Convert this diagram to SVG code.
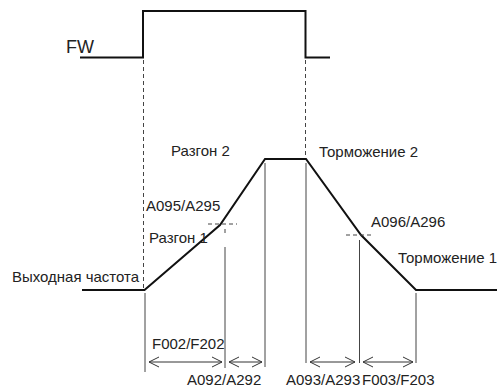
<svg xmlns="http://www.w3.org/2000/svg" width="504" height="388" viewBox="0 0 504 388">
<style>
text{font-family:"Liberation Sans",Arial,sans-serif;font-size:15px;fill:#222}
.thick{fill:none;stroke:#111;stroke-width:2;stroke-linejoin:miter}
.thin{fill:none;stroke:#444;stroke-width:1}
.dash{fill:none;stroke:#444;stroke-width:1;stroke-dasharray:4 3}
.arr{fill:none;stroke:#333;stroke-width:1;marker-start:url(#ah);marker-end:url(#ah)}
</style>
<defs>
<marker id="ah" viewBox="-12 -7 13 14" markerWidth="13" markerHeight="14" refX="0" refY="0" orient="auto-start-reverse" markerUnits="userSpaceOnUse">
<path d="M-10,-5 L0,0 L-10,5" fill="none" stroke="#333" stroke-width="1"/>
</marker>
</defs>
<g id="fw-signal">
<path class="thick" d="M80,57.5 H143 V11 H305.5 V57.5 H330"/>
<text x="66" y="53" style="font-size:18px">FW</text>
</g>
<g id="output-frequency">
<path class="thick" d="M82,290 H144.5 L220,225 L265,159 H306 L361,235 L416,290 H497"/>
<text x="12" y="282" textLength="127" lengthAdjust="spacingAndGlyphs">Выходная частота</text>
</g>
<g id="connectors">
<line class="dash" x1="143.5" y1="60" x2="143.5" y2="288"/>
<line class="dash" x1="305.5" y1="60" x2="305.5" y2="157"/>
<line class="dash" x1="208" y1="224" x2="237" y2="224"/>
<line class="dash" x1="346" y1="235" x2="374" y2="235"/>
<line class="thin" x1="225" y1="229" x2="225" y2="233"/>
<line class="thin" x1="145" y1="293" x2="145" y2="372"/>
<line class="thin" x1="225" y1="247" x2="225" y2="368"/>
<line class="thin" x1="265" y1="163" x2="265" y2="367"/>
<line class="thin" x1="306" y1="163" x2="306" y2="363"/>
<line class="thin" x1="359.5" y1="240" x2="359.5" y2="363"/>
<line class="thin" x1="416" y1="293" x2="416" y2="363"/>
<line class="arr" x1="149" y1="362" x2="222" y2="362"/>
<line class="arr" x1="229" y1="362" x2="262" y2="362"/>
<line class="arr" x1="310" y1="362" x2="355" y2="362"/>
<line class="arr" x1="363" y1="362" x2="413" y2="362"/>
</g>
<g id="labels">
<text x="171" y="156">Разгон 2</text>
<text x="319" y="157">Торможение 2</text>
<text x="146" y="211">A095/A295</text>
<text x="149" y="243">Разгон 1</text>
<text x="371" y="227">A096/A296</text>
<text x="398" y="263">Торможение 1</text>
<text x="152" y="349">F002/F202</text>
<text x="187" y="385">A092/A292</text>
<text x="286" y="385">A093/A293</text>
<text x="362" y="385">F003/F203</text>
</g>
</svg>
